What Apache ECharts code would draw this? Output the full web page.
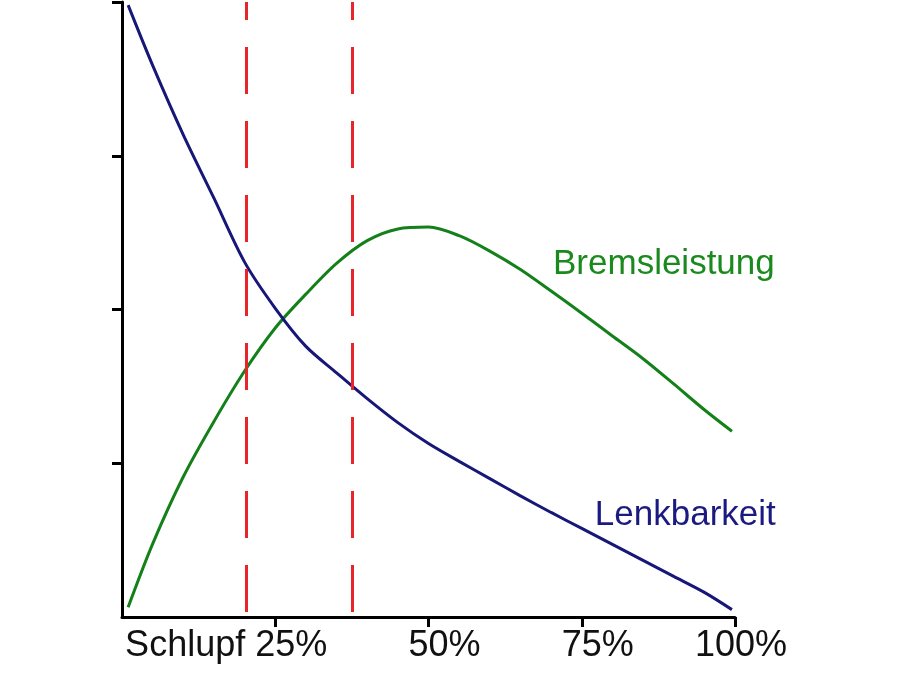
<!DOCTYPE html>
<html>
<head>
<meta charset="utf-8">
<script src="https://cdn.jsdelivr.net/npm/echarts@6/dist/echarts.min.js"></script>
<style>
  html, body { margin: 0; padding: 0; background: #fff; }
  #chart { width: 900px; height: 676px; }
</style>
</head>
<body>
<div id="chart"></div>
<script>
// Schlupf in %
const slip = [1, 5, 10, 15, 20, 25, 30, 35, 40, 45, 50, 55, 60, 65, 70, 75, 80, 85, 90, 95, 99.5]
// Bremsleistung (relative, 0..100)
const braking = [1.6, 11.9, 22.8, 31.8, 40.0, 47.0, 52.5, 57.5, 61.2, 63.1, 63.4, 62.0, 59.5, 56.5, 53.0, 49.4, 45.7, 42.0, 37.9, 33.7, 30.2]
// Lenkbarkeit (relative, 0..100)
const steering = [99.5, 89.7, 78.4, 68.1, 57.7, 50.2, 44.0, 39.7, 35.5, 31.6, 28.2, 25.3, 22.5, 19.7, 17.0, 14.4, 11.8, 9.2, 6.6, 4.0, 1.2]
// optimaler Schlupfbereich
const slipRange = [20.3, 37.6]
const xTicks = [25, 50, 75, 100]
const yTicks = [25, 50, 75, 100]

const font = "'Liberation Sans', Arial, sans-serif"
const chart = echarts.init(document.getElementById('chart'))

function pairs(ys) {
  return slip.map((x, i) => [x, ys[i]])
}

function nameLabel(text, coord, color) {
  return {
    symbol: 'circle',
    symbolSize: 1,
    itemStyle: { color: 'transparent' },
    label: {
      show: true,
      position: 'inside',
      formatter: text,
      color: color,
      fontFamily: font,
      fontSize: 35
    },
    data: [{ coord: coord }]
  }
}

chart.setOption({
  animation: false,
  backgroundColor: '#fff',
  grid: { left: 122, right: 165, top: 2, bottom: 59 },
  xAxis: {
    type: 'value',
    min: 0,
    max: 100,
    interval: 25,
    splitLine: { show: false },
    axisLine: { lineStyle: { color: '#000', width: 3 } },
    axisTick: { show: true, length: 10, customValues: xTicks, lineStyle: { color: '#000', width: 3 } },
    axisLabel: {
      customValues: xTicks,
      formatter: v => (v === 25 ? 'Schlupf 25%' : v + '%'),
      align: 'right',
      padding: [0, -52, 0, 0],
      margin: 11,
      color: '#111',
      fontFamily: font,
      fontSize: 36
    }
  },
  yAxis: {
    type: 'value',
    min: 0,
    max: 100,
    interval: 25,
    splitLine: { show: false },
    axisLine: { lineStyle: { color: '#000', width: 3 } },
    axisTick: { show: true, length: 10, customValues: yTicks, lineStyle: { color: '#000', width: 3 } },
    axisLabel: { show: false }
  },
  series: [
    {
      name: 'Bremsleistung',
      type: 'line',
      data: pairs(braking),
      smooth: 0.3,
      showSymbol: false,
      lineStyle: { color: '#14801a', width: 3 },
      markPoint: nameLabel('Bremsleistung', [88.4, 57.3], '#1b8a1e'),
      markLine: {
        silent: true,
        symbol: 'none',
        label: { show: false },
        lineStyle: { color: '#e8262a', width: 3, type: [47, 27], dashOffset: 69 },
        data: slipRange.map(x => ({ xAxis: x }))
      }
    },
    {
      name: 'Lenkbarkeit',
      type: 'line',
      data: pairs(steering),
      smooth: 0.3,
      showSymbol: false,
      lineStyle: { color: '#17177a', width: 3 },
      markPoint: nameLabel('Lenkbarkeit', [91.9, 16.6], '#1a1a80')
    }
  ]
})
</script>
</body>
</html>
